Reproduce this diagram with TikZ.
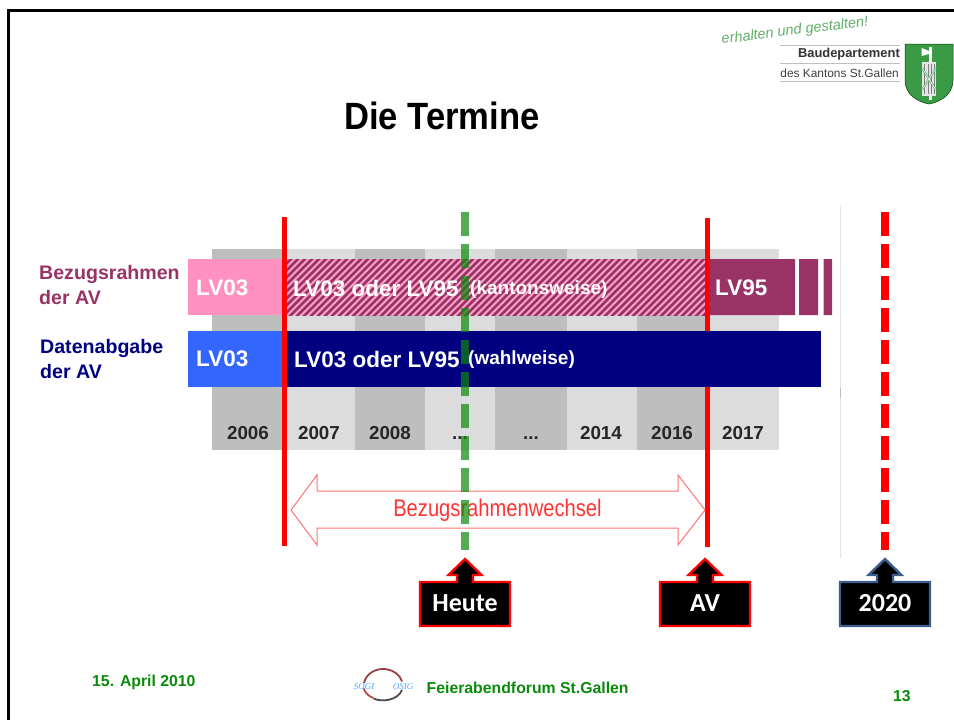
\documentclass[tikz,border=0pt]{standalone}
\usepackage{fontspec}
\setmainfont{Liberation Sans}
\newfontfamily\carl{Carlito}
\newfontfamily\serifit{Liberation Serif}
\definecolor{gdark}{HTML}{BEBEBE}
\definecolor{glight}{HTML}{DCDCDC}
\definecolor{rosa}{HTML}{FF91C0}
\definecolor{wine}{HTML}{993366}
\definecolor{blau}{HTML}{3366FF}
\definecolor{navy2}{HTML}{000080}
\definecolor{kgreen}{HTML}{0A8A0A}
\definecolor{steel}{HTML}{3A5F8F}
\definecolor{shield}{HTML}{3A9A45}
\tikzset{
 x=1pt,y=-1pt,
 bartext/.style={text=white,font=\bfseries\fontsize{22.5}{22.5}\selectfont,inner sep=0pt,anchor=west},
 smalltext/.style={text=white,font=\bfseries\fontsize{19}{19}\selectfont,inner sep=0pt,anchor=west},
 yeartext/.style={font=\bfseries\fontsize{18.8}{18.8}\selectfont,inner sep=0pt,text=black!85,anchor=base},
 side/.style={font=\bfseries\fontsize{19.6}{25.5}\selectfont,align=left,inner sep=0pt,anchor=west},
 greenfoot/.style={text=kgreen,font=\bfseries\fontsize{15.8}{15.8}\selectfont,inner sep=0pt},
 pin/.style={line width=2.4pt,fill=black,line join=miter},
 pinlabel/.style={text=white,font=\carl\bfseries\fontsize{26}{26}\selectfont,inner sep=0pt},
 sogitext/.style={text=blue!50!cyan!70,font=\serifit\itshape\fontsize{9}{9}\selectfont,inner sep=0pt},
}
\newcommand{\pinshape}[3]{%
 \draw[pin,draw=#2] (#1-45,626) -- (#1+45,626) -- (#1+45,582) -- (#1+8,582) -- (#1+8,575) -- (#1+16.5,575) -- (#1,559) -- (#1-16.5,575) -- (#1-8,575) -- (#1-8,582) -- (#1-45,582) -- cycle;
 \node[pinlabel] (#3) at (#1,603) {#3};}
\begin{document}
\begin{tikzpicture}
\useasboundingbox (0,0) rectangle (954,720);
\fill[white] (0,0) rectangle (954,720);
% frame
\draw[line width=2.4pt] (8.5,720) -- (8.5,10.3) -- (954,10.3);
% title
\node[font=\bfseries\fontsize{38}{38}\selectfont,inner sep=0pt,xscale=.91] (title) at (442,116) {Die Termine};
% logo
\node[rotate=7,text=shield!80,font=\itshape\fontsize{14.5}{14.5}\selectfont,inner sep=0pt] (motto) at (795,31) {erhalten und gestalten!};
\draw[gray!50,line width=.7pt] (780,45) -- (900,45) (780,63) -- (900,63) (780,81) -- (900,81);
\node[anchor=east,font=\bfseries\fontsize{12.9}{12.9}\selectfont,text=black!80,inner sep=0pt] (bau) at (900,54) {Baudepartement};
\node[anchor=east,font=\fontsize{11.9}{11.9}\selectfont,text=black!75,inner sep=0pt] (kanton) at (899,73) {des Kantons St.Gallen};
\fill[shield,draw=green!25!black,line width=.5pt] (905,44) -- (953,44) -- (953,80) .. controls (953,95) and (940,102) .. (929,104) .. controls (918,102) and (905,95) .. (905,80) -- cycle;
\fill[white] (921.5,48) -- (929,51) -- (929,54) -- (921.5,56) -- cycle;
\fill[white] (929,47) rectangle (932,100);
\fill[white!90!black] (922,62) rectangle (936,96);
\foreach \xx in {924.5,928,931.5,934} \draw[gray,line width=.8pt] (\xx,64) -- (\xx,94);
\draw[shield,line width=1.8pt] (922,68) -- (936,90) (936,68) -- (922,90);
\draw[white,line width=.7pt] (922,68) -- (936,90) (936,68) -- (922,90);
% year columns
\foreach \a/\b/\c in {212/283/gdark,283/355/glight,355/425/gdark,425/495/glight,495/567/gdark,567/637/glight,637/707/gdark,707/779/glight}
  \fill[\c] (\a,249) rectangle (\b,450);
% upper bar
\fill[rosa] (188,259) rectangle (284,315);
\fill[rosa!85!white] (284,259) rectangle (706,315);
\begin{scope}
\clip (284,259) rectangle (706,315);
\foreach \k in {0,7,...,490}
  \draw[wine,line width=2.6pt] (230+\k,320) -- (230+\k+70,250);
\end{scope}
\fill[wine] (706,259) rectangle (795,315) (799,259) rectangle (818,315) (823.5,259) rectangle (832,315);
% right red line runs behind the lower bar
\draw[red,line width=4.5pt] (707.5,218) -- (707.5,547);
% lower bar
\fill[blau] (188,331) rectangle (284,387);
\fill[navy2] (284,331) rectangle (821,387);
% row labels
\node[side,text=wine] (bez) at (39,285) {Bezugsrahmen\\der AV};
\node[side,text=navy2] (dat) at (40,359) {Datenabgabe\\der AV};
\node[bartext] (a1) at (196,288) {LV03};
\node[bartext] (a2) at (293,288) {LV03 oder LV95};
\node[smalltext] (a3) at (470,290) {(kantonsweise)};
\node[bartext] (a4) at (715,288) {LV95};
\node[bartext] (b1) at (196,359) {LV03};
\node[bartext] (b2) at (294,359) {LV03 oder LV95};
\node[smalltext] (b3) at (468,360) {(wahlweise)};
% years
\node[yeartext] (y1) at (248,439) {2006};
\node[yeartext] (y2) at (319,439) {2007};
\node[yeartext] (y3) at (390,439) {2008};
\node[yeartext] (y4) at (460,439) {...};
\node[yeartext] (y5) at (531,439) {...};
\node[yeartext] (y6) at (601,439) {2014};
\node[yeartext] (y7) at (672,439) {2016};
\node[yeartext] (y8) at (743,439) {2017};
% range arrow
\draw[red!55,line width=1pt,line join=miter] (291,510) -- (317,475) -- (317,491) -- (678,491) -- (678,475) -- (705,510) -- (678,545) -- (678,528) -- (317,528) -- (317,545) -- cycle;
\node[text=red!80,font=\fontsize{24}{24}\selectfont,inner sep=0pt,xscale=.84] (wechsel) at (497.5,510) {Bezugsrahmenwechsel};
% vertical markers
\draw[gray!20,line width=.8pt] (840,205) -- (840,558);
\draw[gray!50,line width=.8pt] (840,388) -- (840,398);
\draw[red,line width=4.5pt] (284.5,217) -- (284.5,546);
\draw[red,line width=8.5pt,dash pattern=on 24pt off 8pt] (885,212) -- (885,550);
\draw[kgreen,opacity=.7,line width=8pt,dash pattern=on 24pt off 8pt] (465,212) -- (465,550);
% pins
\pinshape{465}{red}{Heute}
\pinshape{705}{red}{AV}
\pinshape{885}{steel}{2020}
% footer
\node[greenfoot,anchor=west] (date) at (92,682) {15. April 2010};
\node[greenfoot,anchor=west] (forum) at (426.5,688) {Feierabendforum St.Gallen};
\node[greenfoot,anchor=west] (page) at (893,696) {13};
\draw[red!45!black!75,line width=1.8pt] (364,683) arc[start angle=-170,end angle=-15,x radius=19.5,y radius=17];
\draw[black!70,line width=1.8pt] (402,690) arc[start angle=15,end angle=120,x radius=19.5,y radius=14];
\draw[red!60!black!70,line width=1.8pt] (373.2,698) arc[start angle=120,end angle=170,x radius=19.5,y radius=14];
\node[sogitext] (sogi) at (364,687) {SOGI};
\node[sogitext] (osig) at (403,687) {OSIG};
\end{tikzpicture}
\end{document}
